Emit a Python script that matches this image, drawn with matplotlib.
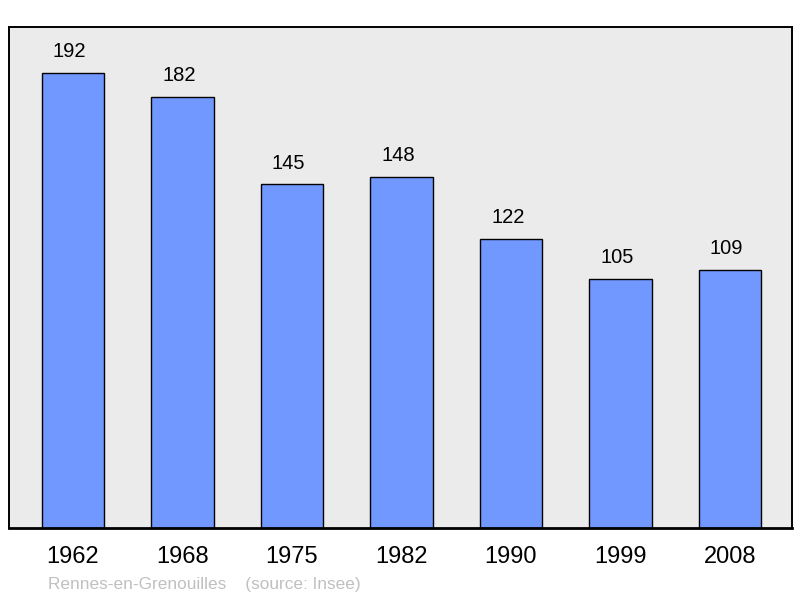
import matplotlib
matplotlib.use("Agg")
import matplotlib.pyplot as plt

# data
years = ["1962", "1968", "1975", "1982", "1990", "1999", "2008"]
population = [192, 182, 145, 148, 122, 105, 109]

plt.rcParams['font.family'] = ['Liberation Sans', 'DejaVu Sans']

fig = plt.figure(figsize=(8, 5.98), dpi=100)
# axes box in pixels: x 9..792, y 27..528
ax = fig.add_axes([9 / 800, 1 - 528 / 598, 783 / 800, 501 / 598])
ax.set_facecolor("#ebebeb")

x = list(range(len(years)))
ax.bar(x, population, width=0.57, color="#7098ff", edgecolor="black",
       linewidth=1.0, zorder=2)

for xi, v in zip(x, population):
    ax.text(xi - 0.03, v + 5, str(v), ha="center", va="bottom", fontsize=14.5)

ax.set_xlim(-0.584, 6.566)
ax.set_ylim(0, 211.4)
ax.set_yticks([])
ax.set_xticks(x)
ax.set_xticklabels(years, fontsize=17)
ax.tick_params(axis="x", length=0, pad=13)

for side in ["top", "right", "left"]:
    ax.spines[side].set_linewidth(1.4)
ax.spines["bottom"].set_linewidth(2.0)

fig.text(48 / 800, 1 - 584 / 598, "Rennes-en-Grenouilles    (source: Insee)",
         fontsize=12.4, color="#c0c0c0", ha="left", va="center")

fig.savefig("out.png", dpi=100)
